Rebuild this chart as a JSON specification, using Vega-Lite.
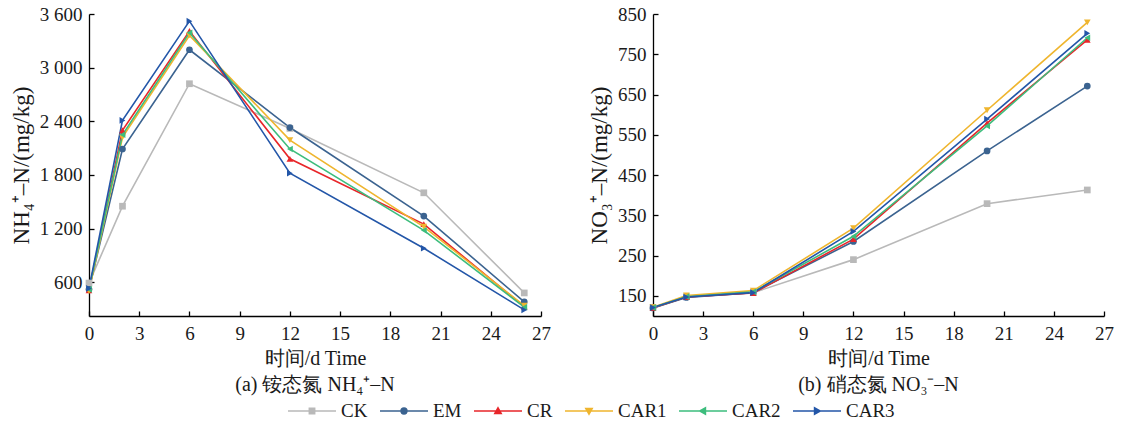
{
  "$schema": "https://vega.github.io/schema/vega-lite/v6.json",
  "padding": {"left": 10, "top": 5, "right": 5, "bottom": 0},
  "background": "white",
  "config": {
    "view": {"stroke": null},
    "font": "Liberation Serif",
    "axis": {
      "grid": false,
      "domainColor": "#000",
      "domainWidth": 1.3,
      "tickColor": "#000",
      "tickWidth": 1.3,
      "tickSize": -5
    },
    "title": {"font": "Liberation Serif", "fontSize": 20, "fontWeight": "normal", "color": "#1a1a1a"}
  },
  "datasets": {
    "nh4": [
      {"day": 0, "series": "CK", "v": 590}, {"day": 2, "series": "CK", "v": 1450}, {"day": 6, "series": "CK", "v": 2820}, {"day": 12, "series": "CK", "v": 2320}, {"day": 20, "series": "CK", "v": 1600}, {"day": 26, "series": "CK", "v": 480},
      {"day": 0, "series": "EM", "v": 520}, {"day": 2, "series": "EM", "v": 2090}, {"day": 6, "series": "EM", "v": 3200}, {"day": 12, "series": "EM", "v": 2330}, {"day": 20, "series": "EM", "v": 1340}, {"day": 26, "series": "EM", "v": 380},
      {"day": 0, "series": "CR", "v": 510}, {"day": 2, "series": "CR", "v": 2300}, {"day": 6, "series": "CR", "v": 3410}, {"day": 12, "series": "CR", "v": 1980}, {"day": 20, "series": "CR", "v": 1250}, {"day": 26, "series": "CR", "v": 326},
      {"day": 0, "series": "CAR1", "v": 500}, {"day": 2, "series": "CAR1", "v": 2220}, {"day": 6, "series": "CAR1", "v": 3360}, {"day": 12, "series": "CAR1", "v": 2190}, {"day": 20, "series": "CAR1", "v": 1220}, {"day": 26, "series": "CAR1", "v": 337},
      {"day": 0, "series": "CAR2", "v": 520}, {"day": 2, "series": "CAR2", "v": 2250}, {"day": 6, "series": "CAR2", "v": 3390}, {"day": 12, "series": "CAR2", "v": 2090}, {"day": 20, "series": "CAR2", "v": 1180}, {"day": 26, "series": "CAR2", "v": 320},
      {"day": 0, "series": "CAR3", "v": 530}, {"day": 2, "series": "CAR3", "v": 2410}, {"day": 6, "series": "CAR3", "v": 3520}, {"day": 12, "series": "CAR3", "v": 1820}, {"day": 20, "series": "CAR3", "v": 980}, {"day": 26, "series": "CAR3", "v": 290}
    ],
    "no3": [
      {"day": 0, "series": "CK", "v": 121}, {"day": 2, "series": "CK", "v": 148}, {"day": 6, "series": "CK", "v": 158}, {"day": 12, "series": "CK", "v": 240}, {"day": 20, "series": "CK", "v": 379}, {"day": 26, "series": "CK", "v": 413},
      {"day": 0, "series": "EM", "v": 120}, {"day": 2, "series": "EM", "v": 146}, {"day": 6, "series": "EM", "v": 158}, {"day": 12, "series": "EM", "v": 285}, {"day": 20, "series": "EM", "v": 510}, {"day": 26, "series": "EM", "v": 671},
      {"day": 0, "series": "CR", "v": 120}, {"day": 2, "series": "CR", "v": 147}, {"day": 6, "series": "CR", "v": 157}, {"day": 12, "series": "CR", "v": 291}, {"day": 20, "series": "CR", "v": 579}, {"day": 26, "series": "CR", "v": 786},
      {"day": 0, "series": "CAR1", "v": 122}, {"day": 2, "series": "CAR1", "v": 151}, {"day": 6, "series": "CAR1", "v": 163}, {"day": 12, "series": "CAR1", "v": 318}, {"day": 20, "series": "CAR1", "v": 611}, {"day": 26, "series": "CAR1", "v": 829},
      {"day": 0, "series": "CAR2", "v": 121}, {"day": 2, "series": "CAR2", "v": 148}, {"day": 6, "series": "CAR2", "v": 160}, {"day": 12, "series": "CAR2", "v": 298}, {"day": 20, "series": "CAR2", "v": 572}, {"day": 26, "series": "CAR2", "v": 791},
      {"day": 0, "series": "CAR3", "v": 121}, {"day": 2, "series": "CAR3", "v": 147}, {"day": 6, "series": "CAR3", "v": 158}, {"day": 12, "series": "CAR3", "v": 310}, {"day": 20, "series": "CAR3", "v": 589}, {"day": 26, "series": "CAR3", "v": 802}
    ]
  },
  "hconcat": [
    {
      "width": 452,
      "height": 302,
      "data": {"name": "nh4"},
      "title": {"text": "(a) 铵态氮 NH₄⁺–N", "orient": "bottom", "frame": "group", "offset": 7},
      "encoding": {
        "x": {"field": "day", "type": "quantitative", "scale": {"domain": [0, 27], "nice": false}, "axis": {"values": [0,3,6,9,12,15,18,21,24,27], "labelFlush": false, "labelPadding": 13, "labelFont": "Liberation Serif", "labelFontSize": 19, "labelColor": "#1a1a1a", "title": "时间/d Time", "titlePadding": 5, "titleFont": "Liberation Serif", "titleFontSize": 20, "titleFontWeight": "normal", "titleColor": "#1a1a1a"}},
        "y": {"field": "v", "type": "quantitative", "scale": {"domain": [222, 3600], "nice": false, "zero": false}, "axis": {"values": [600,1200,1800,2400,3000,3600], "labelExpr": "replace(format(datum.value, ','), ',', ' ')", "labelPadding": 12, "labelFont": "Liberation Serif", "labelFontSize": 19, "labelColor": "#1a1a1a", "title": "NH₄⁺–N/(mg/kg)", "titlePadding": 6, "titleFont": "Liberation Serif", "titleFontSize": 23, "titleFontWeight": "normal", "titleColor": "#1a1a1a"}},
        "color": {"field": "series", "type": "nominal", "scale": {"domain": ["CK","EM","CR","CAR1","CAR2","CAR3"], "range": ["#b9b9b9","#3b6390","#e8262a","#efb52e","#3dbd7d","#2356a8"]},
          "legend": {
            "orient": "none", "legendX": 198, "legendY": 372, "direction": "horizontal", "title": null,
            "symbolSize": 2304, "symbolStrokeWidth": 1.6, "labelOffset": 4, "columnPadding": 8,
            "labelFont": "Liberation Serif", "labelFontSize": 19, "labelColor": "#1a1a1a", "symbolOpacity": 1,
            "encode": {"symbols": {"update": {
              "shape": {"signal": "datum.value === 'CK' ? 'M-1,0H1M-0.11,-0.11H0.11V0.11H-0.11Z' : datum.value === 'EM' ? 'M-1,0H1M-0.12,0A0.12,0.12 0 1,1 0.12,0A0.12,0.12 0 1,1 -0.12,0Z' : datum.value === 'CR' ? 'M-1,0H1M0,-0.13L0.13,0.1L-0.13,0.1Z' : datum.value === 'CAR1' ? 'M-1,0H1M0,0.13L-0.13,-0.1L0.13,-0.1Z' : datum.value === 'CAR2' ? 'M-1,0H1M-0.13,0L0.1,-0.13L0.1,0.13Z' : 'M-1,0H1M0.13,0L-0.1,0.13L-0.1,-0.13Z'"},
              "strokeWidth": {"value": 1.6}
            }}}
          }}
      },
      "layer": [
        {"mark": {"type": "line", "strokeWidth": 1.6}},
        {"transform": [{"filter": "datum.series === 'CK'"}], "mark": {"type": "point", "filled": true, "shape": "square", "size": 45, "opacity": 1}},
        {"transform": [{"filter": "datum.series === 'EM'"}], "mark": {"type": "point", "filled": true, "shape": "circle", "size": 45, "opacity": 1}},
        {"transform": [{"filter": "datum.series === 'CR'"}], "mark": {"type": "point", "filled": true, "shape": "triangle-up", "size": 45, "opacity": 1}},
        {"transform": [{"filter": "datum.series === 'CAR1'"}], "mark": {"type": "point", "filled": true, "shape": "triangle-down", "size": 45, "opacity": 1}},
        {"transform": [{"filter": "datum.series === 'CAR2'"}], "mark": {"type": "point", "filled": true, "shape": "triangle-left", "size": 45, "opacity": 1}},
        {"transform": [{"filter": "datum.series === 'CAR3'"}], "mark": {"type": "point", "filled": true, "shape": "triangle-right", "size": 45, "opacity": 1}}
      ]
    },
    {
      "width": 451,
      "height": 302,
      "data": {"name": "no3"},
      "title": {"text": "(b) 硝态氮 NO₃⁻–N", "orient": "bottom", "frame": "group", "offset": 7},
      "encoding": {
        "x": {"field": "day", "type": "quantitative", "scale": {"domain": [0, 27], "nice": false}, "axis": {"values": [0,3,6,9,12,15,18,21,24,27], "labelFlush": false, "labelPadding": 13, "labelFont": "Liberation Serif", "labelFontSize": 19, "labelColor": "#1a1a1a", "title": "时间/d Time", "titlePadding": 5, "titleFont": "Liberation Serif", "titleFontSize": 20, "titleFontWeight": "normal", "titleColor": "#1a1a1a"}},
        "y": {"field": "v", "type": "quantitative", "scale": {"domain": [100, 850], "nice": false, "zero": false}, "axis": {"values": [150,250,350,450,550,650,750,850], "labelPadding": 12, "labelFont": "Liberation Serif", "labelFontSize": 19, "labelColor": "#1a1a1a", "title": "NO₃⁺–N/(mg/kg)", "titlePadding": 6, "titleFont": "Liberation Serif", "titleFontSize": 23, "titleFontWeight": "normal", "titleColor": "#1a1a1a"}},
        "color": {"field": "series", "type": "nominal", "scale": {"domain": ["CK","EM","CR","CAR1","CAR2","CAR3"], "range": ["#b9b9b9","#3b6390","#e8262a","#efb52e","#3dbd7d","#2356a8"]},
          "legend": {
            "orient": "none", "legendX": 198, "legendY": 372, "direction": "horizontal", "title": null,
            "symbolSize": 2304, "symbolStrokeWidth": 1.6, "labelOffset": 4, "columnPadding": 8,
            "labelFont": "Liberation Serif", "labelFontSize": 19, "labelColor": "#1a1a1a", "symbolOpacity": 1
          }}
      },
      "layer": [
        {"mark": {"type": "line", "strokeWidth": 1.6}},
        {"transform": [{"filter": "datum.series === 'CK'"}], "mark": {"type": "point", "filled": true, "shape": "square", "size": 45, "opacity": 1}},
        {"transform": [{"filter": "datum.series === 'EM'"}], "mark": {"type": "point", "filled": true, "shape": "circle", "size": 45, "opacity": 1}},
        {"transform": [{"filter": "datum.series === 'CR'"}], "mark": {"type": "point", "filled": true, "shape": "triangle-up", "size": 45, "opacity": 1}},
        {"transform": [{"filter": "datum.series === 'CAR1'"}], "mark": {"type": "point", "filled": true, "shape": "triangle-down", "size": 45, "opacity": 1}},
        {"transform": [{"filter": "datum.series === 'CAR2'"}], "mark": {"type": "point", "filled": true, "shape": "triangle-left", "size": 45, "opacity": 1}},
        {"transform": [{"filter": "datum.series === 'CAR3'"}], "mark": {"type": "point", "filled": true, "shape": "triangle-right", "size": 45, "opacity": 1}}
      ]
    }
  ],
  "spacing": 37,
  "resolve": {"scale": {"color": "shared"}}
}
